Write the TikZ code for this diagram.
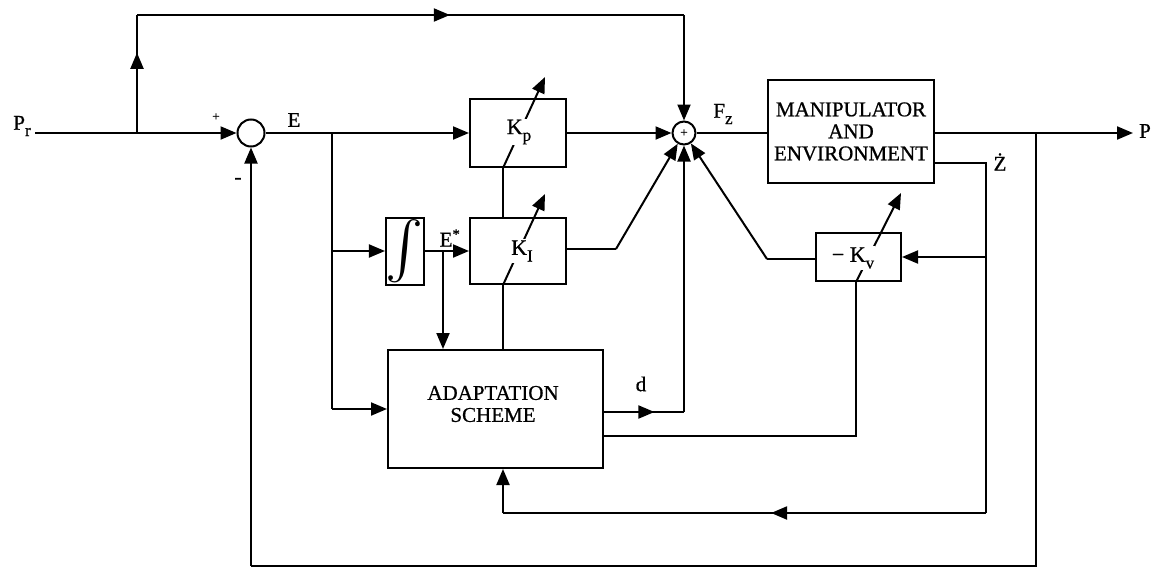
\documentclass[tikz,border=0pt]{standalone}
\usepackage{fontspec}
\setmainfont{Liberation Serif}[FakeBold=0.8]
\usepackage{graphicx}
\usetikzlibrary{arrows.meta,decorations.markings}
\newcommand\lowsub[1]{\raisebox{-0.3em}{\fontsize{17}{17}\selectfont #1}}
\begin{document}
\begin{tikzpicture}[x=1pt,y=-1pt,
  line width=2pt,
  >={Triangle[length=16pt,width=13pt]},
  blk/.style={draw,line width=2pt,inner sep=0pt,anchor=center},
  sumc/.style={draw,circle,line width=2pt,inner sep=0pt},
  lbl/.style={font=\fontsize{21}{23}\selectfont,inner sep=1pt},
  gl/.style={font=\fontsize{22}{23}\selectfont,inner sep=1pt,fill=white},
  btxt/.style={font=\fontsize{21}{22}\selectfont,align=center,inner sep=0pt},
  midarr/.style={postaction={decorate},decoration={markings,mark=at position #1 with {\arrow{Triangle[length=16pt,width=13pt]}}}},
]
\useasboundingbox (0,0) rectangle (1152,570);

% coordinates
\coordinate (in) at (35,133);
\coordinate (b1) at (137,133);
\coordinate (tl) at (137,15);
\coordinate (tr) at (684,15);
\coordinate (eb) at (332,133);
\coordinate (ei) at (332,251);
\coordinate (ea) at (332,409);
\coordinate (esb) at (443,251);
\coordinate (gx) at (503,300);
\coordinate (kpt) at (545,77);
\coordinate (kit) at (545,194);
\coordinate (kvt) at (901,193);
\coordinate (kic) at (616,249);
\coordinate (dc) at (684,412);
\coordinate (pend) at (1133,133);
\coordinate (ob) at (1036,133);
\coordinate (obd) at (1036,566);
\coordinate (obl) at (251,566);
\coordinate (zc) at (986,163);
\coordinate (zb) at (986,513);
\coordinate (za) at (503,513);
\coordinate (kvin) at (986,257);
\coordinate (kvl) at (767,259);
\coordinate (kvb) at (856,436);

% blocks
\node[sumc,minimum size=27pt] (s1) at (251,133) {};
\node[sumc,minimum size=23pt] (s2) at (684,133) {};
\node[blk,minimum width=96pt,minimum height=68pt] (kp) at (518,133) {};
\node[blk,minimum width=96pt,minimum height=66pt] (ki) at (518,251) {};
\node[blk,minimum width=34pt,minimum height=67pt] (int) at (405,251) {\resizebox{!}{46pt}{$\int$}};
\node[blk,minimum width=215pt,minimum height=118pt] (ad) at (495.5,409) {};
\node[btxt] (adt) at (493,404) {ADAPTATION\\SCHEME};
\node[blk,minimum width=166pt,minimum height=103pt,btxt] (mp) at (851,131.5) {MANIPULATOR\\AND\\ENVIRONMENT};
\node[blk,minimum width=85pt,minimum height=48pt] (kv) at (858.5,257) {};

% connectors
\draw[->] (in) -- (s1);
\draw[midarr=0.68] (b1) -- (tl);
\draw[midarr=0.572] (tl) -- (tr);
\draw[->] (tr) -- (s2);
\draw (s1) -- (eb);
\draw[->] (eb) -- (kp);
\draw (eb) -- (ea);
\draw[->] (ei) -- (int);
\draw[->] (ea) -- (ad);
\draw (int) -- (esb);
\draw[->] (esb) -- (ki);
\draw[->] (esb) -- (esb |- ad.north);
\draw[->] (kp) -- (s2);
\draw (ki.east |- kic) -- (kic);
\draw[->] (kic) -- (s2);
\draw (s2) -- (mp.west |- s2);
\draw[->] (mp.east |- pend) -- (pend);
\draw (ob) -- (obd) -- (obl);
\draw[->] (obl) -- (s1);
\draw (zc -| mp.east) -- (zc) -- (zb);
\draw[midarr=0.445] (zb) -- (za);
\draw[->] (za) -- (ad.south -| za);
\draw[->] (kvin) -- (kv.east |- kvin);
\draw (kv.west |- kvl) -- (kvl);
\draw[->] (kvl) -- (s2);
\draw (ad.east |- kvb) -- (kvb) -- (kvb |- kv.south);
\draw[midarr=0.63] (ad.east |- dc) -- (dc);
\draw[->] (dc) -- (s2);
\draw (ad.north -| gx) -- (ki.south -| gx);
\draw (ki.north -| gx) -- (kp.south -| gx);
\draw[->] (ki.south -| gx) -- (kit);
\draw[->] (kp.south -| gx) -- (kpt);
\draw[->] (kv.south -| kvb) -- (kvt);

% labels
\node[lbl] (pr) at (22,126) {P\lowsub{r}};
\node[font=\fontsize{13}{13}\selectfont,inner sep=0pt] (plus1) at (216,117) {+};
\node[font=\fontsize{22}{22}\selectfont,inner sep=0pt] (minus1) at (238,181) {-};
\node[lbl] (E) at (294,120) {E};
\node[lbl] (es) at (450,238) {E\textsuperscript{*}};
\node[font=\fontsize{13}{13}\selectfont,inner sep=0pt] (s2p) at (s2) {+};
\node[lbl] (fz) at (723,114) {F\lowsub{z}};
\node[lbl] (P) at (1145,131) {P};
\node[lbl] (zd) at (1000,162) {Ż};
\node[lbl] (d) at (641,384) {d};
\node[gl] (kpl) at (519,132) {K\lowsub{p}};
\node[gl] (kil) at (522,251) {K\lowsub{I}};
\node[gl] (kvl2) at (853,258) {− K\lowsub{v}};
\end{tikzpicture}
\end{document}
